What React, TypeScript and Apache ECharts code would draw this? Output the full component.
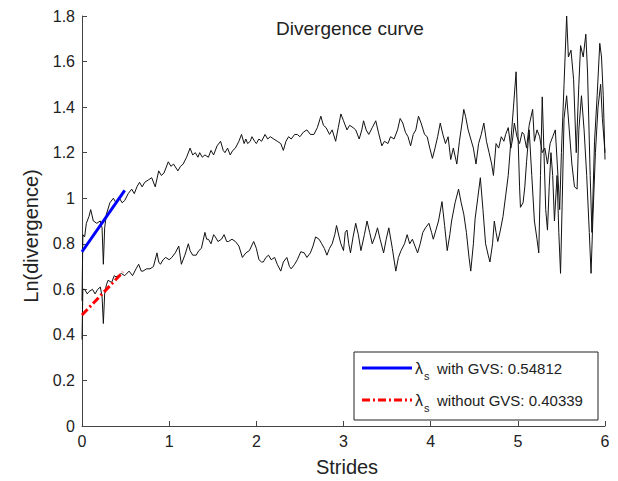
import React, { useEffect, useRef } from "react";
import * as echarts from "echarts";

// Divergence curve with GVS (upper curve): [stride, ln(divergence)]
const curveWithGVS: [number, number][] = [
  [0, 0.55], [0.01, 0.84], [0.03, 0.83], [0.05, 0.89], [0.08, 0.92], [0.10, 0.95], [0.13, 0.90],
  [0.17, 0.89], [0.21, 0.90], [0.23, 0.87], [0.245, 0.71], [0.26, 0.87], [0.28, 0.93], [0.32, 0.98],
  [0.36, 1.00], [0.39, 0.98], [0.43, 1.00], [0.46, 0.98], [0.49, 0.99], [0.53, 1.02], [0.57, 1.04],
  [0.60, 1.02], [0.63, 1.05], [0.66, 1.07], [0.69, 1.05], [0.72, 1.07], [0.76, 1.08], [0.80, 1.09],
  [0.84, 1.05], [0.88, 1.12], [0.91, 1.10], [0.94, 1.11], [0.99, 1.16], [1.02, 1.14], [1.05, 1.15],
  [1.10, 1.12], [1.13, 1.14], [1.16, 1.15], [1.20, 1.18], [1.24, 1.22], [1.27, 1.19], [1.30, 1.20],
  [1.33, 1.18], [1.35, 1.20], [1.38, 1.18], [1.41, 1.19], [1.45, 1.18], [1.48, 1.21], [1.51, 1.19],
  [1.55, 1.23], [1.59, 1.25], [1.62, 1.21], [1.64, 1.20], [1.67, 1.22], [1.70, 1.19], [1.73, 1.21],
  [1.76, 1.22], [1.80, 1.25], [1.83, 1.28], [1.86, 1.24], [1.88, 1.26], [1.90, 1.24], [1.93, 1.25],
  [1.95, 1.27], [1.98, 1.25], [2.00, 1.24], [2.03, 1.26], [2.06, 1.25], [2.10, 1.28], [2.13, 1.26],
  [2.16, 1.27], [2.20, 1.26], [2.24, 1.25], [2.28, 1.24], [2.31, 1.21], [2.34, 1.25], [2.37, 1.27],
  [2.40, 1.26], [2.44, 1.28], [2.47, 1.28], [2.50, 1.27], [2.54, 1.29], [2.58, 1.30], [2.62, 1.28],
  [2.66, 1.28], [2.70, 1.31], [2.74, 1.36], [2.77, 1.32], [2.80, 1.31], [2.84, 1.28], [2.87, 1.30],
  [2.91, 1.25], [2.94, 1.31], [2.97, 1.37], [3.00, 1.34], [3.04, 1.30], [3.07, 1.32], [3.11, 1.31],
  [3.14, 1.30], [3.18, 1.26], [3.21, 1.30], [3.23, 1.34], [3.26, 1.30], [3.29, 1.28], [3.33, 1.31],
  [3.37, 1.34], [3.40, 1.29], [3.44, 1.23], [3.47, 1.25], [3.51, 1.24], [3.54, 1.27], [3.58, 1.26],
  [3.62, 1.30], [3.65, 1.35], [3.68, 1.33], [3.71, 1.29], [3.74, 1.27], [3.77, 1.23], [3.80, 1.28],
  [3.83, 1.30], [3.86, 1.36], [3.89, 1.33], [3.93, 1.28], [3.96, 1.27], [3.99, 1.22], [4.02, 1.175],
  [4.05, 1.22], [4.08, 1.27], [4.11, 1.33], [4.14, 1.28], [4.17, 1.24], [4.20, 1.27], [4.23, 1.17],
  [4.26, 1.22], [4.30, 1.15], [4.33, 1.25], [4.36, 1.33], [4.38, 1.39], [4.40, 1.36], [4.43, 1.30],
  [4.46, 1.26], [4.49, 1.22], [4.52, 1.15], [4.55, 1.24], [4.58, 1.28], [4.61, 1.33], [4.64, 1.25],
  [4.67, 1.20], [4.70, 1.15], [4.72, 1.10], [4.75, 1.24], [4.78, 1.22], [4.81, 1.27], [4.84, 1.25],
  [4.86, 1.28], [4.89, 1.31], [4.92, 1.22], [4.94, 1.26], [4.96, 1.33], [4.99, 1.27], [5.02, 1.24],
  [5.05, 1.29], [5.07, 1.28], [5.10, 1.22], [5.13, 1.32], [5.17, 1.39], [5.19, 1.25], [5.22, 1.30],
  [5.25, 1.27], [5.28, 1.20], [5.31, 1.22], [5.34, 1.15], [5.37, 1.24], [5.40, 1.27], [5.43, 1.30],
  [5.46, 1.10], [5.48, 0.95], [5.50, 1.20], [5.53, 1.50], [5.56, 1.80], [5.58, 1.62], [5.61, 1.65],
  [5.64, 1.52], [5.67, 1.20], [5.70, 1.50], [5.72, 1.67], [5.75, 1.62], [5.78, 1.72], [5.80, 1.55],
  [5.83, 1.10], [5.85, 0.85], [5.88, 1.25], [5.91, 1.45], [5.94, 1.68], [5.96, 1.62], [5.98, 1.45],
  [6.00, 1.17],
];

// Divergence curve without GVS (lower curve)
const curveWithoutGVS: [number, number][] = [
  [0, 0.38], [0.01, 0.60], [0.03, 0.60], [0.06, 0.58], [0.08, 0.59], [0.12, 0.60], [0.15, 0.58],
  [0.18, 0.60], [0.21, 0.61], [0.23, 0.57], [0.245, 0.45], [0.26, 0.58], [0.28, 0.62], [0.30, 0.64],
  [0.34, 0.63], [0.37, 0.66], [0.39, 0.655], [0.42, 0.66], [0.45, 0.67], [0.49, 0.66], [0.54, 0.68],
  [0.58, 0.66], [0.62, 0.69], [0.65, 0.71], [0.68, 0.68], [0.70, 0.68], [0.74, 0.69], [0.78, 0.69],
  [0.82, 0.70], [0.86, 0.76], [0.88, 0.72], [0.90, 0.71], [0.93, 0.73], [0.96, 0.74], [1.00, 0.73],
  [1.03, 0.74], [1.07, 0.76], [1.11, 0.79], [1.14, 0.71], [1.18, 0.75], [1.22, 0.80], [1.24, 0.77],
  [1.27, 0.75], [1.31, 0.75], [1.34, 0.77], [1.37, 0.78], [1.41, 0.85], [1.43, 0.82], [1.45, 0.82],
  [1.48, 0.80], [1.51, 0.84], [1.53, 0.83], [1.56, 0.81], [1.60, 0.82], [1.63, 0.84], [1.66, 0.81],
  [1.68, 0.81], [1.72, 0.82], [1.76, 0.81], [1.80, 0.79], [1.84, 0.74], [1.88, 0.76], [1.92, 0.77],
  [1.97, 0.81], [2.00, 0.78], [2.03, 0.73], [2.06, 0.72], [2.08, 0.72], [2.11, 0.74], [2.14, 0.75],
  [2.17, 0.73], [2.21, 0.74], [2.24, 0.71], [2.28, 0.68], [2.31, 0.72], [2.35, 0.74], [2.38, 0.70],
  [2.40, 0.69], [2.44, 0.71], [2.47, 0.73], [2.51, 0.765], [2.55, 0.76], [2.58, 0.74], [2.62, 0.76],
  [2.65, 0.79], [2.68, 0.83], [2.72, 0.82], [2.75, 0.80], [2.78, 0.78], [2.81, 0.75], [2.84, 0.78],
  [2.87, 0.80], [2.90, 0.84], [2.92, 0.88], [2.95, 0.83], [2.97, 0.80], [3.00, 0.77], [3.02, 0.85],
  [3.04, 0.86], [3.06, 0.80], [3.08, 0.76], [3.11, 0.83], [3.14, 0.89], [3.17, 0.84], [3.20, 0.77],
  [3.24, 0.84], [3.27, 0.90], [3.30, 0.85], [3.33, 0.80], [3.36, 0.83], [3.39, 0.87], [3.42, 0.82],
  [3.46, 0.76], [3.49, 0.82], [3.52, 0.87], [3.56, 0.78], [3.60, 0.68], [3.63, 0.74], [3.66, 0.77],
  [3.70, 0.80], [3.73, 0.84], [3.76, 0.80], [3.79, 0.82], [3.82, 0.79], [3.85, 0.76], [3.88, 0.80],
  [3.91, 0.85], [3.94, 0.87], [3.98, 0.89], [4.01, 0.85], [4.03, 0.82], [4.06, 0.86], [4.09, 0.90],
  [4.13, 0.985], [4.16, 0.88], [4.19, 0.77], [4.22, 0.84], [4.24, 0.90], [4.28, 0.98], [4.32, 1.04],
  [4.35, 0.98], [4.38, 0.93], [4.41, 0.85], [4.44, 0.74], [4.46, 0.68], [4.49, 0.80], [4.51, 0.91],
  [4.54, 1.00], [4.57, 1.09], [4.60, 0.95], [4.63, 0.80], [4.66, 0.75], [4.68, 0.72], [4.71, 0.80],
  [4.73, 0.90], [4.75, 0.85], [4.77, 0.81], [4.80, 0.86], [4.83, 0.92], [4.86, 1.01], [4.89, 1.10],
  [4.92, 1.25], [4.95, 1.40], [4.98, 1.555], [5.00, 1.30], [5.02, 1.05], [5.03, 0.96], [5.06, 0.98],
  [5.08, 1.05], [5.10, 1.16], [5.13, 1.30], [5.16, 1.10], [5.19, 0.90], [5.22, 0.82], [5.24, 0.76],
  [5.26, 1.10], [5.28, 1.445], [5.30, 1.20], [5.32, 0.95], [5.34, 0.86], [5.36, 1.05], [5.38, 1.20],
  [5.40, 1.10], [5.42, 0.90], [5.45, 1.10], [5.47, 0.85], [5.49, 0.67], [5.51, 1.00], [5.53, 1.35],
  [5.56, 1.45], [5.59, 1.30], [5.62, 1.15], [5.65, 1.05], [5.68, 1.04], [5.70, 1.30], [5.73, 1.45],
  [5.76, 1.30], [5.79, 1.10], [5.82, 0.85], [5.84, 0.67], [5.86, 0.90], [5.89, 1.20], [5.92, 1.40],
  [5.95, 1.50], [5.97, 1.35], [6.00, 1.20],
];

// Linear fits (lambda_s)
const fitWithGVS: [number, number][] = [[0, 0.765], [0.49, 1.034]];
const fitWithoutGVS: [number, number][] = [[0, 0.487], [0.47, 0.676]];

const legendLabels = ["with GVS: 0.54812", "without GVS: 0.40339"];
const titleText = "Divergence curve";
const xName = "Strides";
const yName = "Ln(divergence)";

const FONT = "Liberation Sans, Arial, sans-serif";

export default function App() {
  const ref = useRef<HTMLDivElement>(null);
  useEffect(() => {
    if (!ref.current) return;
    const chart = echarts.init(ref.current, undefined, { renderer: "svg" });
    const axisCommon = {
      axisLine: { show: true, lineStyle: { color: "#444", width: 1 } },
      axisTick: { show: true, inside: true, length: 5, lineStyle: { color: "#444" } },
      splitLine: { show: false },
    };
    chart.setOption({
      animation: false,
      backgroundColor: "#fff",
      textStyle: { fontFamily: FONT },
      grid: { left: 82, right: 13, top: 16, bottom: 55 },
      xAxis: {
        type: "value",
        min: 0,
        max: 6,
        interval: 1,
        ...axisCommon,
        axisLabel: { color: "#222", fontSize: 16, margin: 7, fontFamily: FONT },
      },
      yAxis: {
        type: "value",
        min: 0,
        max: 1.8,
        interval: 0.2,
        ...axisCommon,
        axisLabel: {
          color: "#222",
          fontSize: 16,
          margin: 7,
          fontFamily: FONT,
          formatter: (v: number) => String(Math.round(v * 10) / 10),
        },
      },
      series: [
        {
          type: "line",
          data: curveWithGVS,
          showSymbol: false,
          symbol: "none",
          lineStyle: { color: "#111", width: 1 },
          z: 2,
        },
        {
          type: "line",
          data: curveWithoutGVS,
          showSymbol: false,
          symbol: "none",
          lineStyle: { color: "#111", width: 1 },
          z: 2,
        },
        {
          type: "line",
          data: fitWithGVS,
          showSymbol: false,
          symbol: "none",
          lineStyle: { color: "#0000ff", width: 3 },
          z: 3,
        },
        {
          type: "line",
          data: fitWithoutGVS,
          showSymbol: false,
          symbol: "none",
          lineStyle: { color: "#ff0000", width: 3, type: [8, 3, 2, 3] },
          z: 3,
        },
      ],
      graphic: [
        {
          type: "text",
          x: 350,
          y: 28,
          style: { text: titleText, fontSize: 19, fill: "#222", align: "center", verticalAlign: "middle", fontFamily: FONT },
        },
        {
          type: "text",
          x: 347,
          y: 467,
          style: { text: xName, fontSize: 20, fill: "#222", align: "center", verticalAlign: "middle", fontFamily: FONT },
        },
        {
          type: "text",
          x: 31,
          y: 236,
          rotation: Math.PI / 2,
          style: { text: yName, fontSize: 20, fill: "#222", align: "center", verticalAlign: "middle", fontFamily: FONT },
        },
        {
          type: "group",
          z: 10,
          children: [
            {
              type: "rect",
              shape: { x: 354, y: 352, width: 244, height: 68 },
              style: { fill: "#fff", stroke: "#222", lineWidth: 1 },
            },
            {
              type: "line",
              shape: { x1: 362, y1: 368, x2: 412, y2: 368 },
              style: { stroke: "#0000ff", lineWidth: 3 },
            },
            {
              type: "line",
              shape: { x1: 362, y1: 400, x2: 412, y2: 400 },
              style: { stroke: "#ff0000", lineWidth: 3, lineDash: [8, 3, 2, 3] },
            },
            {
              type: "text",
              x: 415,
              y: 368,
              style: { text: "λ", fontSize: 16, fill: "#222", verticalAlign: "middle", fontFamily: FONT },
            },
            {
              type: "text",
              x: 424,
              y: 376,
              style: { text: "s", fontSize: 11, fill: "#222", verticalAlign: "middle", fontFamily: FONT },
            },
            {
              type: "text",
              x: 437,
              y: 368,
              style: { text: legendLabels[0], fontSize: 15, fill: "#222", verticalAlign: "middle", fontFamily: FONT },
            },
            {
              type: "text",
              x: 415,
              y: 400,
              style: { text: "λ", fontSize: 16, fill: "#222", verticalAlign: "middle", fontFamily: FONT },
            },
            {
              type: "text",
              x: 424,
              y: 408,
              style: { text: "s", fontSize: 11, fill: "#222", verticalAlign: "middle", fontFamily: FONT },
            },
            {
              type: "text",
              x: 437,
              y: 400,
              style: { text: legendLabels[1], fontSize: 15, fill: "#222", verticalAlign: "middle", fontFamily: FONT },
            },
          ],
        },
      ],
    });
    return () => chart.dispose();
  }, []);
  return (
    <div
      ref={ref}
      style={{ position: "fixed", left: 0, top: 0, width: 618, height: 481, background: "#fff" }}
    />
  );
}
